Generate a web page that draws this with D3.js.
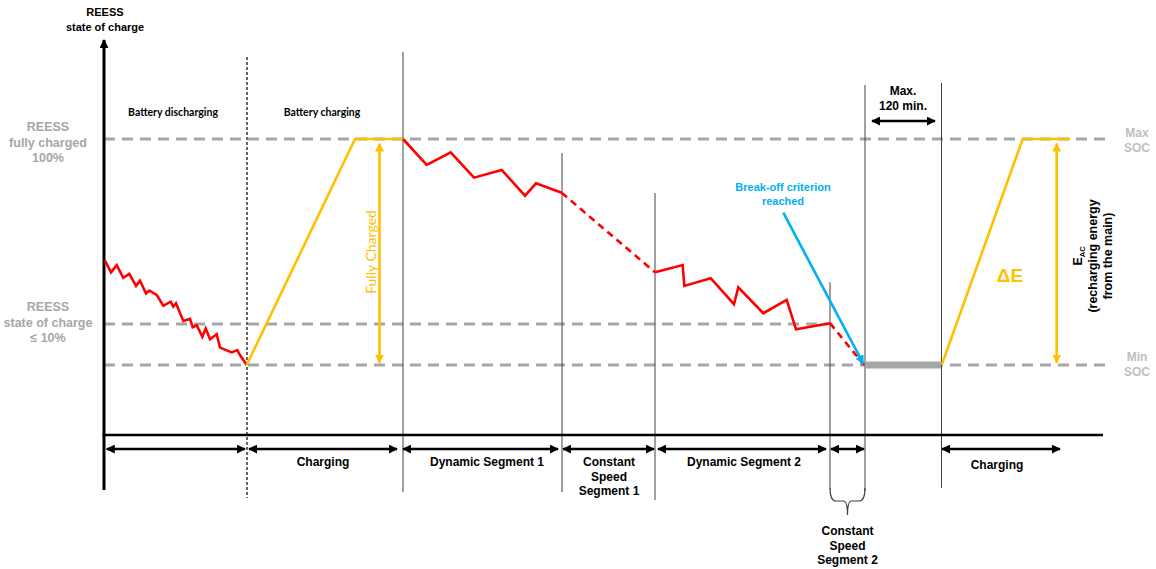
<!DOCTYPE html>
<html>
<head>
<meta charset="utf-8">
<script src="https://cdn.jsdelivr.net/npm/d3@7"></script>
<style>
  body { margin: 0; background: #fff; }
  svg { display: block; font-family: "Liberation Sans", Arial, sans-serif; }
</style>
</head>
<body>
<svg width="1156" height="569"></svg>
<script>
// time in diagram units, SOC in % (0 = min SOC, 100 = max SOC)
var dischargeT   = [1, 7, 12.7, 19.3, 25.3, 32, 36, 42, 45.3, 52.7, 59.3, 66.7, 69.3, 72, 79.3, 86, 88.7, 92.7, 98.3, 101.7, 106, 112.7, 116, 127.7, 133.3, 136, 142.7];
var dischargeSoc = [46.2, 41.0, 44.2, 38.6, 40.3, 35.0, 37.3, 31.7, 32.9, 31.0, 26.2, 28.0, 25.8, 27.3, 19.5, 20.4, 16.7, 17.6, 12.5, 16.2, 11.4, 13.6, 7.7, 5.6, 6.6, 4.4, 0];
var charge1T     = [142.7, 251, 299];
var charge1Soc   = [0, 100, 100];
var dyn1T        = [299, 322.7, 346.7, 370, 397.7, 421, 432, 457.7];
var dyn1Soc      = [100, 88.5, 94.1, 82.9, 86.3, 74.9, 80.4, 76.2];
var cs1T         = [457.7, 551];
var cs1Soc       = [76.2, 41.0];
var dyn2T        = [551, 578.7, 580.3, 606.7, 630, 634.3, 659.3, 682.7, 692, 726];
var dyn2Soc      = [41.0, 44.2, 35.0, 38.4, 26.9, 34.4, 22.9, 28.8, 15.8, 18.5];
var cs2T         = [726, 760];
var cs2Soc       = [18.5, 0];
var breakT       = [679.3, 759.3];
var breakSoc     = [67.4, 0.6];
var soakT        = [761, 837];
var charge2T     = [837.7, 918.7, 966];
var charge2Soc   = [0, 100, 100];

// vertical phase boundaries
var boundT      = [143, 299, 458, 551, 726, 761, 837.5];
var boundTop    = [136.3, 138.5, 93.8, 76.1, 36.7, 123.9, 124.8];
var boundBottom = [-58.8, -56.2, -56.2, -59.7, -54.9, -55.8, -54.4];
var boundDashed = [true, false, false, false, false, false, false];

// horizontal SOC levels
var levelSoc = [100, 18.1, 0];
var levelEnd = [1006, 726, 1006];

// phase arrows under the time axis
var phaseStart = [2.7, 145, 299, 459, 554, 727, 838];
var phaseEnd   = [141, 293, 454, 550, 722, 760, 956];
var phaseLabelT = [219, 383, 505, 640, 893];
var phaseLabels = [["Charging"], ["Dynamic Segment 1"], ["Constant", "Speed", "Segment 1"], ["Dynamic Segment 2"], ["Charging"]];

var RED = '#ff0000', ORANGE = '#ffc000', BLUE = '#00b0f0', GREY = '#a6a6a6';

var svg = d3.select('svg');
var x = d3.scaleLinear().domain([0, 1000]).range([104, 1104]);
var y = d3.scaleLinear().domain([0, 100]).range([365, 139]);
var axisSoc = -31;

var defs = svg.append('defs');
[['black', '#000'], ['orange', ORANGE], ['blue', BLUE]].forEach(function (m) {
    defs.append('marker')
        .attr('id', 'arrow-' + m[0])
        .attr('viewBox', '0 -5 10 10')
        .attr('refX', 9).attr('refY', 0)
        .attr('markerUnits', 'userSpaceOnUse')
        .attr('markerWidth', 9).attr('markerHeight', 9)
        .attr('orient', 'auto-start-reverse')
        .append('path')
        .attr('d', 'M0,-5L10,0L0,5Z')
        .attr('fill', m[1]);
});

var line = d3.line().x(function (d) { return x(d[0]); }).y(function (d) { return y(d[1]); });
function pts(ts, ss) { return ts.map(function (t, i) { return [t, ss[i]]; }); }

// SOC level dashes
levelSoc.forEach(function (s, i) {
    svg.append('line')
        .attr('x1', x(0)).attr('x2', x(levelEnd[i]))
        .attr('y1', y(s)).attr('y2', y(s))
        .attr('stroke', GREY).attr('stroke-width', 3)
        .attr('stroke-dasharray', '11,7');
});

// phase boundaries
boundT.forEach(function (t, i) {
    svg.append('line')
        .attr('x1', x(t)).attr('x2', x(t))
        .attr('y1', y(boundTop[i])).attr('y2', y(boundBottom[i]))
        .attr('stroke', boundDashed[i] ? '#000' : '#404040')
        .attr('stroke-width', boundDashed[i] ? 1.2 : 1)
        .attr('stroke-dasharray', boundDashed[i] ? '3,2' : null);
});

// axes
svg.append('line')
    .attr('x1', x(0)).attr('x2', x(0))
    .attr('y1', y(-55.3)).attr('y2', y(143.8))
    .attr('stroke', '#000').attr('stroke-width', 3)
    .attr('marker-end', 'url(#arrow-black)');
svg.append('line')
    .attr('x1', x(0) - 1.5).attr('x2', x(999))
    .attr('y1', y(axisSoc)).attr('y2', y(axisSoc))
    .attr('stroke', '#000').attr('stroke-width', 2.5);

// gray soak bar
svg.append('line')
    .attr('x1', x(soakT[0])).attr('x2', x(soakT[1]))
    .attr('y1', y(0)).attr('y2', y(0))
    .attr('stroke', GREY).attr('stroke-width', 7);

// curves
function curve(ts, ss, color, dashed) {
    svg.append('path')
        .datum(pts(ts, ss))
        .attr('d', line)
        .attr('fill', 'none')
        .attr('stroke', color)
        .attr('stroke-width', 2.6)
        .attr('stroke-linejoin', 'miter')
        .attr('stroke-dasharray', dashed ? '7,5' : null);
}
curve(dischargeT, dischargeSoc, RED);
curve(charge1T, charge1Soc, ORANGE);
curve(dyn1T, dyn1Soc, RED);
curve(cs1T, cs1Soc, RED, true);
curve(dyn2T, dyn2Soc, RED);
curve(cs2T, cs2Soc, RED, true);
curve(charge2T, charge2Soc, ORANGE);

svg.append('path')
    .datum(pts(breakT, breakSoc))
    .attr('d', line)
    .attr('fill', 'none')
    .attr('stroke', BLUE).attr('stroke-width', 2.6)
    .attr('marker-end', 'url(#arrow-blue)');

// orange double arrows
[275.5, 952.7].forEach(function (t) {
    svg.append('line')
        .attr('x1', x(t)).attr('x2', x(t))
        .attr('y1', y(98)).attr('y2', y(1))
        .attr('stroke', ORANGE).attr('stroke-width', 2.6)
        .attr('marker-start', 'url(#arrow-orange)')
        .attr('marker-end', 'url(#arrow-orange)');
});

// phase arrows
phaseStart.forEach(function (t, i) {
    svg.append('line')
        .attr('x1', x(t)).attr('x2', x(phaseEnd[i]))
        .attr('y1', y(-37.2)).attr('y2', y(-37.2))
        .attr('stroke', '#000').attr('stroke-width', 2.5)
        .attr('marker-start', 'url(#arrow-black)')
        .attr('marker-end', 'url(#arrow-black)');
});
// Max 120 min arrow
svg.append('line')
    .attr('x1', x(768)).attr('x2', x(831))
    .attr('y1', 121).attr('y2', 121)
    .attr('stroke', '#000').attr('stroke-width', 2.5)
    .attr('marker-start', 'url(#arrow-black)')
    .attr('marker-end', 'url(#arrow-black)');

// text helper
function label(px, py, lines, opts) {
    var t = svg.append('text')
        .attr('x', px).attr('y', py)
        .attr('text-anchor', opts.anchor || 'middle')
        .attr('font-size', opts.size || 12)
        .attr('font-weight', opts.weight || 'bold')
        .attr('font-family', opts.family || null)
        .attr('fill', opts.color || '#000');
    lines.forEach(function (l, i) {
        t.append('tspan').attr('x', px).attr('dy', i === 0 ? 0 : (opts.lh || 15)).text(l);
    });
    return t;
}

phaseLabels.forEach(function (l, i) {
    label(x(phaseLabelT[i]), i === 4 ? 469 : 466, l, { size: 12, lh: 14.5 });
});

// brace under constant speed segment 2
var bx0 = x(boundT[4]), bx1 = x(boundT[5]), bm = (bx0 + bx1) / 2;
svg.append('path')
    .attr('d', 'M' + bx0 + ',488 Q' + bx0 + ',501 ' + (bx0 + 6) + ',501 L' + (bm - 4) + ',501 Q' + bm + ',501 ' + bm + ',515 Q' + bm + ',501 ' + (bm + 4) + ',501 L' + (bx1 - 6) + ',501 Q' + bx1 + ',501 ' + bx1 + ',488')
    .attr('fill', 'none').attr('stroke', '#404040').attr('stroke-width', 1.2);
label(bm, 535, ['Constant', 'Speed', 'Segment 2'], { size: 12, lh: 14.5 });

label(105, 16, ['REESS', 'state of charge'], { size: 11, lh: 15 });
label(48, 131, ['REESS', 'fully charged', '100%'], { size: 12.5, color: GREY, lh: 15.5 });
label(48, 311, ['REESS', 'state of charge', '\u2264 10%'], { size: 12.5, color: GREY, lh: 15.5 });
label(1137, 137, ['Max', 'SOC'], { size: 12, color: '#bfbfbf', lh: 15 });
label(1137, 361, ['Min', 'SOC'], { size: 12, color: '#bfbfbf', lh: 15 });

label(173, 116, ['Battery discharging'], { size: 10.5, weight: 'bold', family: 'Lato, sans-serif' });
label(322, 116, ['Battery charging'], { size: 10.5, weight: 'bold', family: 'Lato, sans-serif' });
label(903, 95, ['Max.', '120 min.'], { size: 12, lh: 15 });
label(783, 191, ['Break-off criterion', 'reached'], { size: 11, color: BLUE, lh: 14 });
label(1010, 282, ['\u0394E'], { size: 19, color: ORANGE });

svg.append('text')
    .attr('transform', 'translate(376,252) rotate(-90)')
    .attr('text-anchor', 'middle')
    .attr('font-family', 'Lato, sans-serif')
    .attr('font-size', 14)
    .attr('fill', ORANGE)
    .text('Fully Charged');

var eac = svg.append('text')
    .attr('transform', 'translate(1082,256) rotate(-90)')
    .attr('text-anchor', 'middle')
    .attr('font-size', 12.5)
    .attr('font-weight', 'bold');
eac.append('tspan').attr('x', 0).attr('dy', 0).text('E');
eac.append('tspan').attr('font-size', 7.5).attr('dy', 3).text('AC');
eac.append('tspan').attr('x', 0).attr('dy', 12).text('(recharging energy');
eac.append('tspan').attr('x', 0).attr('dy', 15).text('from the main)');
</script>
</body>
</html>
